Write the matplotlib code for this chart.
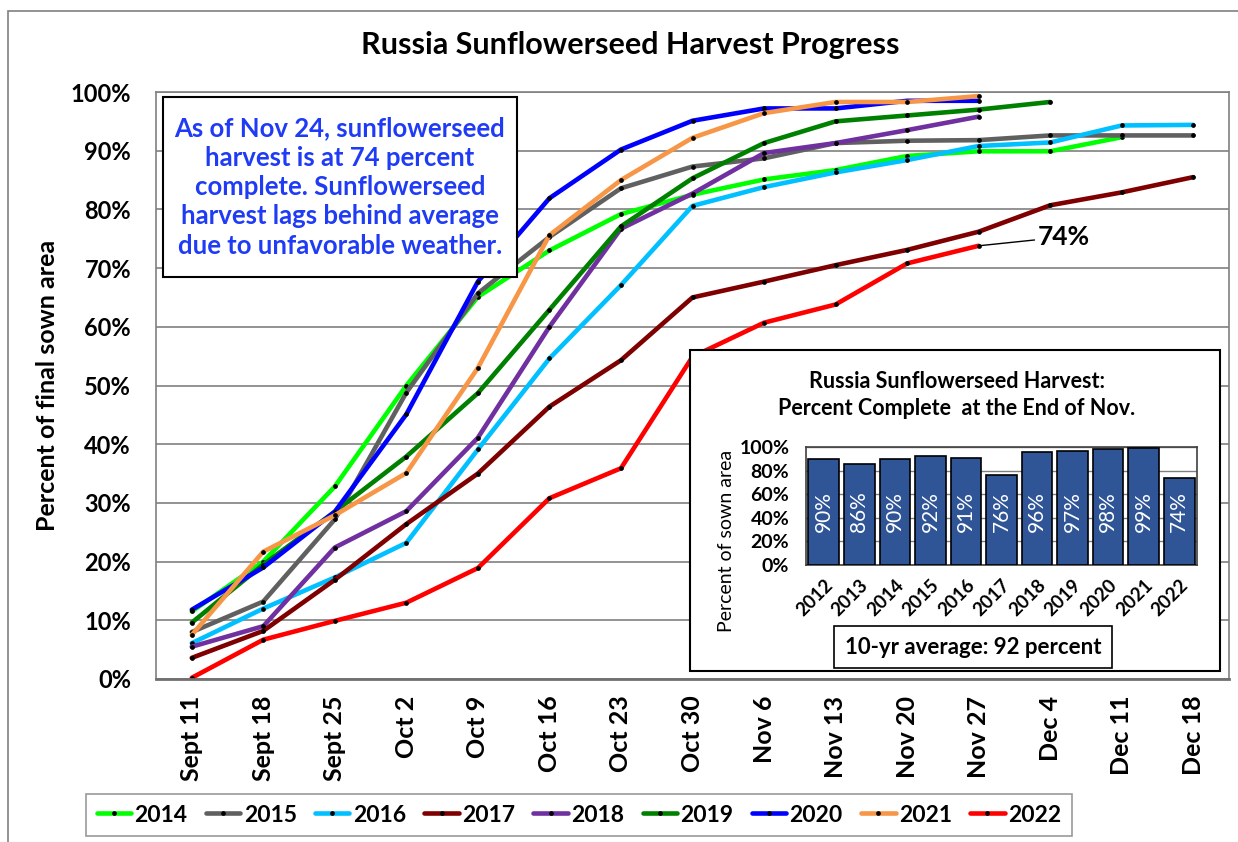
import numpy as np
import matplotlib
matplotlib.use('Agg')
import matplotlib.pyplot as plt
from matplotlib.patches import Rectangle

plt.rcParams['font.family'] = ['Lato', 'DejaVu Sans']

nan = np.nan

# Semanas (eje x)
weeks = ['Sept 11', 'Sept 18', 'Sept 25', 'Oct 2', 'Oct 9', 'Oct 16', 'Oct 23', 'Oct 30',
         'Nov 6', 'Nov 13', 'Nov 20', 'Nov 27', 'Dec 4', 'Dec 11', 'Dec 18']

# Avance de cosecha (%) por año
y2014 = [11.5, 20.0, 32.8, 50.0, 65.1, 73.0, 79.2, 82.5, 85.1, 86.7, 89.1, 89.9, 89.9, 92.3, nan]
y2015 = [8.0, 13.2, 27.2, 48.8, 65.7, 75.3, 83.6, 87.3, 88.7, 91.3, 91.7, 91.8, 92.6, 92.6, 92.6]
y2016 = [6.1, 12.0, 17.3, 23.2, 39.1, 54.6, 67.1, 80.6, 83.8, 86.3, 88.4, 90.8, 91.4, 94.3, 94.4]
y2017 = [3.6, 8.2, 16.9, 26.4, 35.0, 46.4, 54.3, 65.0, 67.7, 70.5, 73.1, 76.2, 80.7, 82.9, 85.5]
y2018 = [5.5, 9.0, 22.4, 28.6, 41.1, 60.0, 76.7, 82.7, 89.6, 91.3, 93.5, 95.8, nan, nan, nan]
y2019 = [9.6, 19.5, 28.5, 37.9, 48.7, 62.9, 77.1, 85.3, 91.3, 95.0, 96.0, 97.0, 98.3, nan, nan]
y2020 = [11.8, 19.0, 28.5, 45.1, 67.7, 81.9, 90.2, 95.1, 97.2, 97.2, 98.5, 98.5, nan, nan, nan]
y2021 = [7.5, 21.7, 27.9, 35.1, 53.0, 75.6, 85.0, 92.2, 96.4, 98.3, 98.3, 99.3, nan, nan, nan]
y2022 = [0.2, 6.7, 9.9, 13.0, 18.9, 30.8, 35.9, 54.9, 60.7, 63.8, 70.8, 73.8, nan, nan, nan]

series = {'2014': y2014, '2015': y2015, '2016': y2016, '2017': y2017, '2018': y2018,
          '2019': y2019, '2020': y2020, '2021': y2021, '2022': y2022}
colors = {'2014': '#00FF00', '2015': '#606060', '2016': '#00C0FF', '2017': '#7F0000',
          '2018': '#7030A0', '2019': '#008000', '2020': '#0000FF', '2021': '#F79646',
          '2022': '#FF0000'}

# Gráfico pequeño: avance a fin de noviembre
bar_years = ['2012', '2013', '2014', '2015', '2016', '2017', '2018', '2019', '2020', '2021', '2022']
bar_vals = [90, 86, 90, 92, 91, 76, 96, 97, 98, 99, 74]

W, H = 1238, 842
fig = plt.figure(figsize=(W / 100, H / 100), dpi=100)

# marco exterior
fig.patches.append(Rectangle((8 / W, -0.05), 1.2, 1 - 11 / H + 0.05, transform=fig.transFigure,
                             fill=False, edgecolor='#808080', lw=1.2, zorder=-1))

ax = fig.add_axes([156 / W, 1 - 679 / H, (1229 - 156) / W, (679 - 92) / H])
x = np.arange(len(weeks))
for yr, vals in series.items():
    ax.plot(x, vals, color=colors[yr], lw=3.3, solid_capstyle='round', marker='o', ms=2.4,
            mfc='black', mec='black', label=yr)

ax.set_xlim(-0.5, 14.5)
ax.set_ylim(0, 100)
ax.set_yticks(np.arange(0, 101, 10))
ax.set_yticklabels([f'{v}%' for v in range(0, 101, 10)], fontsize=17, fontweight='bold')
ax.set_xticks(x)
ax.set_xticklabels(weeks, rotation=90, fontsize=18, fontweight='bold')
ax.tick_params(axis='y', length=0, pad=18)
ax.tick_params(axis='x', length=0, pad=12)
ax.yaxis.grid(True, color='#808080', lw=1.2)
ax.set_axisbelow(True)
for s in ['top', 'right', 'left']:
    ax.spines[s].set_color('#808080')
    ax.spines[s].set_linewidth(1.2)
ax.spines['bottom'].set_color('#707070')
ax.spines['bottom'].set_linewidth(2)
ax.set_ylabel('Percent of final sown area', fontsize=18, fontweight='bold', labelpad=8)

fig.text(630 / W, 1 - 45 / H, 'Russia Sunflowerseed Harvest Progress', ha='center', va='center',
         fontsize=22, fontweight='bold')

# recuadro de texto
fig.patches.append(Rectangle((163 / W, 1 - 277 / H), (517 - 163) / W, (277 - 97) / H,
                             transform=fig.transFigure, facecolor='white', edgecolor='black',
                             lw=1.5, zorder=5))
fig.text(340 / W, 1 - 187 / H,
         'As of Nov 24, sunflowerseed\nharvest is at 74 percent\ncomplete. Sunflowerseed\n'
         'harvest lags behind average\ndue to unfavorable weather.',
         ha='center', va='center', fontsize=18.5, fontweight='bold', color='#1F3BF5',
         linespacing=1.27, zorder=6)

ax.annotate('74%', xy=(11, y2022[11]), xytext=(11.82, 75.3), fontsize=19, fontweight='bold',
            va='center', ha='left',
            arrowprops=dict(arrowstyle='-', color='black', lw=1, shrinkA=0, shrinkB=0))

leg = fig.legend(loc='center', bbox_to_anchor=(579 / W, 1 - 815 / H), ncol=9,
                 prop={'weight': 'bold', 'size': 16.5}, handlelength=1.5, handletextpad=0.15,
                 columnspacing=0.8, frameon=True, fancybox=False, borderpad=0.45)
leg.get_frame().set_edgecolor('#808080')
leg.get_frame().set_linewidth(1.2)

# recuadro del gráfico pequeño
fig.patches.append(Rectangle((690 / W, 1 - 671 / H), (1220 - 690) / W, (671 - 350) / H,
                             transform=fig.transFigure, facecolor='white', edgecolor='black',
                             lw=1.5, zorder=5))
fig.text(957 / W, 1 - 395 / H, 'Russia Sunflowerseed Harvest:\nPercent Complete  at the End of Nov.',
         ha='center', va='center', fontsize=15.5, fontweight='bold', linespacing=1.35, zorder=6)

ax2 = fig.add_axes([806 / W, 1 - 565 / H, (1197 - 806) / W, (565 - 447) / H], zorder=7)
xb = np.arange(len(bar_years))
ax2.bar(xb, bar_vals, width=0.86, color='#2F5597', edgecolor='black', lw=1.2, zorder=3)
for i, v in enumerate(bar_vals):
    ax2.text(i, 45, f'{v}%', rotation=90, ha='center', va='center', color='white',
             fontsize=15, zorder=4)
ax2.set_xlim(-0.5, len(bar_years) - 0.5)
ax2.set_ylim(0, 100)
ax2.set_yticks(np.arange(0, 101, 20))
ax2.set_yticklabels([f'{v}%' for v in range(0, 101, 20)], fontsize=14, fontweight='bold')
ax2.set_xticks(xb)
ax2.set_xticklabels(bar_years, rotation=45, ha='right', rotation_mode='anchor', fontsize=13.5,
                    fontweight='bold')
ax2.tick_params(axis='y', length=0, pad=12)
ax2.tick_params(axis='x', length=0, pad=8)
ax2.yaxis.grid(True, color='#808080', lw=1)
ax2.set_axisbelow(True)
for s in ax2.spines.values():
    s.set_color('#404040')
    s.set_linewidth(1.2)
fig.text(726 / W, 1 - 541 / H, 'Percent of sown area', rotation=90, ha='center', va='center',
         fontsize=14, zorder=8)

fig.patches.append(Rectangle((834 / W, 1 - 668 / H), (1112 - 834) / W, (668 - 626) / H,
                             transform=fig.transFigure, facecolor='white', edgecolor='black',
                             lw=1.2, zorder=8))
fig.text(973 / W, 1 - 647 / H, '10-yr average: 92 percent', ha='center', va='center',
         fontsize=16, fontweight='bold', zorder=9)

plt.savefig('out.png', dpi=100)
